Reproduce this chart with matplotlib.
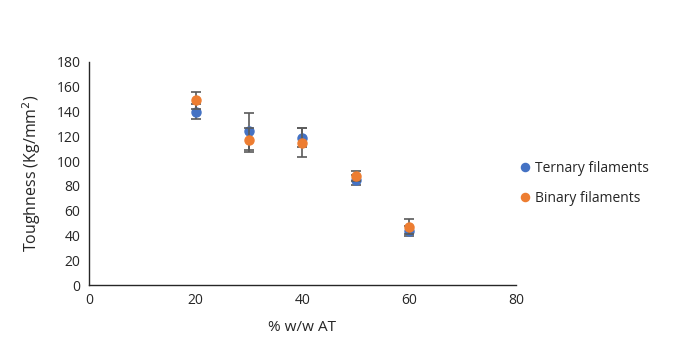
import matplotlib
matplotlib.use("Agg")
import matplotlib.pyplot as plt

plt.rcParams['font.family'] = ['Open Sans', 'DejaVu Sans']

x = [20, 30, 40, 50, 60]
ternary = [140, 124, 119, 85, 44]
ternary_err = [6, 15, 8, 4, 4]
binary = [149, 117, 115, 88, 47]
binary_err = [7, 10, 12, 4, 6]

fig = plt.figure(figsize=(6.79, 3.6), dpi=100)
ax = fig.add_axes([0.131, 0.208, 0.629, 0.62])

ecol = '#5a5a5a'
ax.errorbar(x, ternary, yerr=ternary_err, fmt='o', color='#4472C4', ms=6.5,
            ecolor=ecol, elinewidth=1.2, capsize=3.5, capthick=1.2, label='Ternary filaments', zorder=3)
ax.errorbar(x, binary, yerr=binary_err, fmt='o', color='#ED7D31', ms=6.5,
            ecolor=ecol, elinewidth=1.2, capsize=3.5, capthick=1.2, label='Binary filaments', zorder=4)

ax.set_xlim(0, 80)
ax.set_ylim(0, 180)
ax.set_xticks(range(0, 81, 20))
ax.set_yticks(range(0, 181, 20))
for s in ['top', 'right']:
    ax.spines[s].set_visible(False)
for s in ['left', 'bottom']:
    ax.spines[s].set_color('#262626')
    ax.spines[s].set_linewidth(1.0)
ax.tick_params(length=0, labelsize=10, colors='#262626', pad=6)
ax.set_xlabel('% w/w AT', fontsize=11, color='#262626', labelpad=8)
ax.set_ylabel('Toughness (Kg/mm$^2$)', fontsize=11.5, color='#262626', labelpad=10)

handles, labels = ax.get_legend_handles_labels()
handles = [h[0] for h in handles]
leg = fig.legend(handles, labels, loc='center left', bbox_to_anchor=(0.743, 0.49),
                 frameon=False, fontsize=10, handletextpad=0.1, labelspacing=1.1,
                 handlelength=1.2, markerscale=0.9)
for t in leg.get_texts():
    t.set_color('#262626')

fig.savefig('out.png', dpi=100)
